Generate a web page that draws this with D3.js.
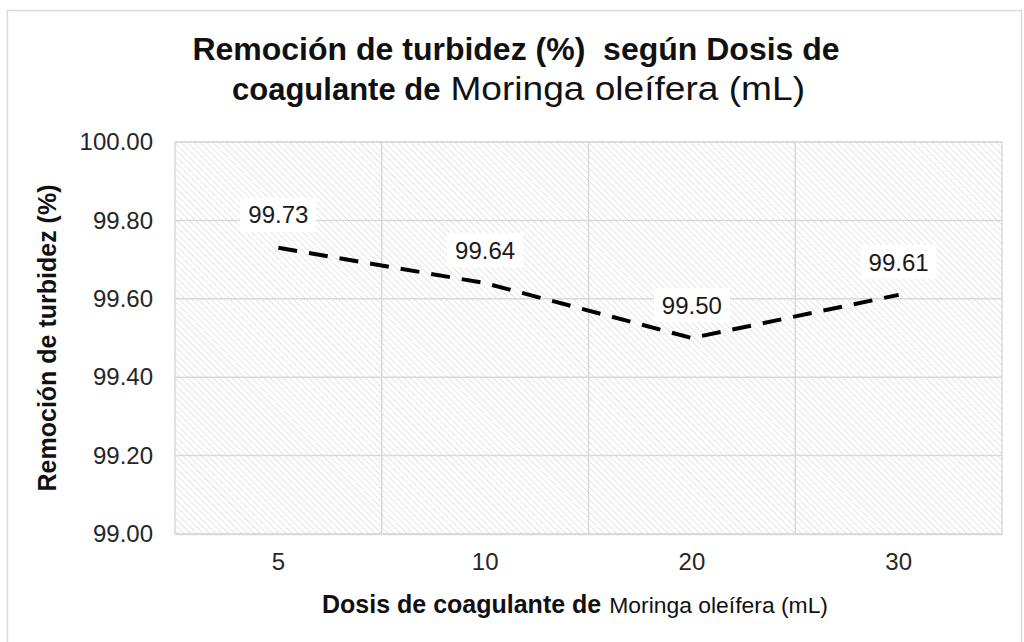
<!DOCTYPE html>
<html>
<head>
<meta charset="utf-8">
<script src="https://cdn.jsdelivr.net/npm/d3@7"></script>
<style>
  body { margin: 0; background: #fff; }
  svg { display: block; font-family: "Liberation Sans", Arial, sans-serif; }
</style>
</head>
<body>
<svg id="chart" width="1024" height="642"></svg>
<script>
const doses = ["5", "10", "20", "30"];
const removal = [99.73, 99.64, 99.50, 99.61];
const yTicks = [99.00, 99.20, 99.40, 99.60, 99.80, 100.00];

const width = 1024, height = 642;
const margin = {top: 142, right: 22, bottom: 108, left: 175};
const svg = d3.select("#chart");

// outer frame
svg.append("rect")
  .attr("x", 7.5).attr("y", 10.5)
  .attr("width", 1014).attr("height", 640)
  .attr("fill", "#fff").attr("stroke", "#d9d9d9").attr("stroke-width", 1.5);

// hatch pattern for the plot area
const pat = svg.append("defs").append("pattern")
  .attr("id", "hatch")
  .attr("patternUnits", "userSpaceOnUse")
  .attr("width", 4.5).attr("height", 4.5)
  .attr("patternTransform", "rotate(-45)");
pat.append("rect").attr("width", 4.5).attr("height", 4.5).attr("fill", "#fff");
pat.append("line")
  .attr("x1", 0).attr("y1", 0).attr("x2", 0).attr("y2", 4.5)
  .attr("stroke", "#d2d2d2").attr("stroke-width", 1.2);

const x = d3.scaleBand()
  .domain(doses)
  .range([margin.left, width - margin.right]);

const y = d3.scaleLinear()
  .domain([99, 100])
  .range([height - margin.bottom, margin.top]);

const g = svg.append("g");

g.append("rect")
  .attr("x", margin.left).attr("y", margin.top)
  .attr("width", x.range()[1] - margin.left)
  .attr("height", y(99) - y(100))
  .attr("fill", "url(#hatch)")
  .attr("stroke", "#d9d9d9").attr("stroke-width", 1.5);

// horizontal gridlines
g.selectAll("line.hgrid")
  .data(yTicks)
  .join("line")
  .attr("class", "hgrid")
  .attr("x1", margin.left).attr("x2", x.range()[1])
  .attr("y1", d => y(d)).attr("y2", d => y(d))
  .attr("stroke", "#d9d9d9").attr("stroke-width", 1.5);

// vertical gridlines at category boundaries
g.selectAll("line.vgrid")
  .data(doses.slice(1))
  .join("line")
  .attr("class", "vgrid")
  .attr("x1", d => x(d)).attr("x2", d => x(d))
  .attr("y1", margin.top).attr("y2", y(99))
  .attr("stroke", "#d9d9d9").attr("stroke-width", 1.5);

// y axis
const yAxis = svg.append("g")
  .attr("transform", `translate(${margin.left},0)`)
  .call(d3.axisLeft(y).tickValues(yTicks).tickFormat(d3.format(".2f")).tickSize(0).tickPadding(22));
yAxis.select(".domain").remove();
yAxis.selectAll("text")
  .attr("font-size", 24).attr("fill", "#262626")
  .attr("font-family", "Liberation Sans, Arial, sans-serif");

// x axis
const xAxis = svg.append("g")
  .attr("transform", `translate(0,${y(99)})`)
  .call(d3.axisBottom(x).tickSize(0).tickPadding(19));
xAxis.select(".domain").attr("stroke", "#d9d9d9").attr("stroke-width", 1.5);
xAxis.selectAll("text")
  .attr("font-size", 24).attr("fill", "#262626")
  .attr("font-family", "Liberation Sans, Arial, sans-serif");

// line
const pts = doses.map((d, i) => [x(d) + x.bandwidth() / 2, y(removal[i])]);
svg.append("path")
  .attr("d", d3.line()(pts))
  .attr("fill", "none")
  .attr("stroke", "#000")
  .attr("stroke-width", 4)
  .attr("stroke-dasharray", "19,12");

// data labels with white boxes
const lbl = svg.append("g").selectAll("g")
  .data(pts)
  .join("g")
  .attr("transform", d => `translate(${d[0]},${d[1] - 33})`);
lbl.append("rect")
  .attr("x", -38).attr("y", -17).attr("width", 76).attr("height", 34)
  .attr("fill", "#fff");
lbl.append("text")
  .attr("text-anchor", "middle").attr("dy", "0.36em")
  .attr("font-size", 24).attr("fill", "#1a1a1a")
  .text((d, i) => removal[i].toFixed(2));

// title
svg.append("text")
  .attr("text-anchor", "middle")
  .attr("x", 516).attr("y", 60)
  .attr("font-size", 32).attr("font-weight", "bold").attr("fill", "#111")
  .style("white-space", "pre")
  .text("Remoción de turbidez (%)  según Dosis de");

const t2 = svg.append("text")
  .attr("x", 232).attr("y", 100)
  .attr("fill", "#111");
const t2b = t2.append("tspan")
  .attr("font-size", 31).attr("font-weight", "bold")
  .text("coagulante de");
const boldLen = t2b.node().getComputedTextLength();
t2.append("tspan")
  .attr("x", 232 + boldLen + 10)
  .attr("font-size", 34)
  .attr("textLength", 805 - (232 + boldLen + 10))
  .attr("lengthAdjust", "spacingAndGlyphs")
  .text("Moringa oleífera (mL)");

// x axis title
const xt = svg.append("text")
  .attr("x", 322).attr("y", 613)
  .attr("fill", "#111");
const xtb = xt.append("tspan").attr("font-weight", "bold").attr("font-size", 25).text("Dosis de coagulante de");
const xbLen = xtb.node().getComputedTextLength();
xt.append("tspan")
  .attr("x", 322 + xbLen + 8)
  .attr("font-size", 22)
  .attr("textLength", 828 - (322 + xbLen + 8))
  .attr("lengthAdjust", "spacingAndGlyphs")
  .text("Moringa oleífera (mL)");

// y axis title
svg.append("text")
  .attr("transform", `translate(56,${(margin.top + y(99)) / 2}) rotate(-90)`)
  .attr("text-anchor", "middle")
  .attr("font-size", 25).attr("font-weight", "bold").attr("fill", "#111")
  .text("Remoción de turbidez (%)");
</script>
</body>
</html>
